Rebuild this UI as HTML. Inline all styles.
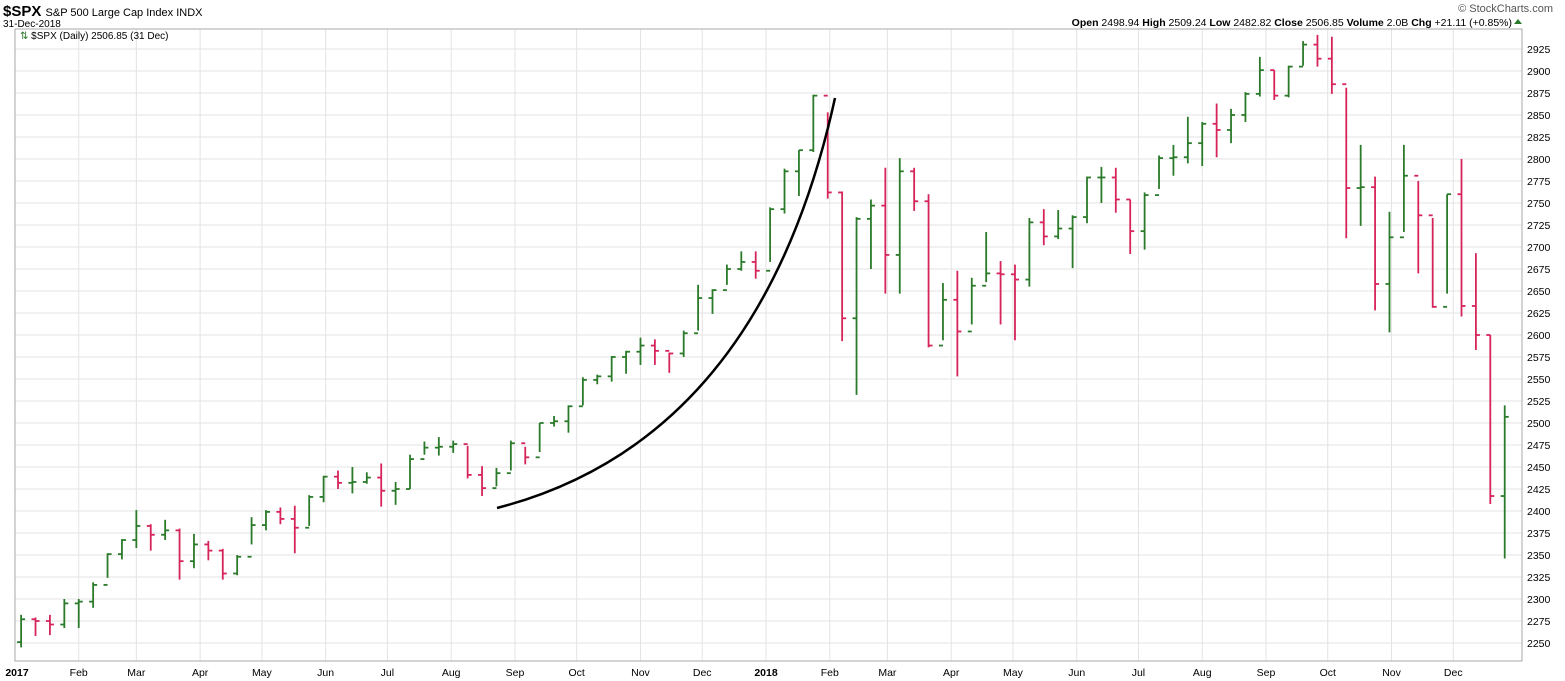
<!DOCTYPE html>
<html><head><meta charset="utf-8"><style>
body{margin:0;background:#fff;font-family:"Liberation Sans",sans-serif;}
#wrap{position:relative;width:1565px;height:681px;overflow:hidden;}
</style></head><body>
<div id="wrap">
<svg id="chart" width="1565" height="681" font-family="Liberation Sans, sans-serif">
<text x="3" y="16" font-size="15" font-weight="bold" fill="#000">$SPX <tspan font-size="11" font-weight="normal">S&amp;P 500 Large Cap Index  INDX</tspan></text>
<text x="3" y="27" font-size="10" fill="#000">31-Dec-2018</text>
<text x="1553" y="12" font-size="11" fill="#555" text-anchor="end">© StockCharts.com</text>
<text x="1512" y="26" font-size="10.5" fill="#000" text-anchor="end"><tspan font-weight="bold">Open</tspan> 2498.94 <tspan font-weight="bold">High</tspan> 2509.24 <tspan font-weight="bold">Low</tspan> 2482.82 <tspan font-weight="bold">Close</tspan> 2506.85 <tspan font-weight="bold">Volume</tspan> 2.0B <tspan font-weight="bold">Chg</tspan> +21.11 (+0.85%)</text>
<polygon points="1514,24 1522,24 1518,19" fill="#2a7a2a"/>
<g id="grid"></g>
<rect x="15" y="29" width="1507" height="632" fill="none" stroke="#aaa"/>
<text x="20" y="39" font-size="10" fill="#000"><tspan fill="#2a7a2a">⇅</tspan> $SPX (Daily) 2506.85 (31 Dec)</text>
<g id="bars"></g>
<path d="M497,508 Q760,440 835,98" fill="none" stroke="#000" stroke-width="2.5"/>
<g id="axes"></g>
</svg>
</div>
<script>
const closes=[2277,2275,2271,2295,2297,2316,2351,2367,2383,2373,2378,2343,2362,2355,2329,2348,2384,2399,2391,2381,2416,2439,2432,2433,2438,2423,2425,2459,2472,2473,2476,2441,2426,2443,2477,2461,2500,2502,2519,2549,2553,2575,2581,2588,2582,2579,2602,2642,2651,2675,2683,2673,2743,2786,2810,2872,2762,2619,2732,2747,2691,2786,2752,2588,2640,2604,2656,2670,2669,2663,2728,2712,2721,2734,2779,2779,2754,2718,2759,2801,2802,2818,2840,2833,2850,2874,2901,2872,2905,2930,2914,2885,2767,2768,2658,2711,2781,2736,2632,2760,2633,2600,2417,2507];
const highs=[2282,2279,2282,2300,2300,2319,2352,2368,2401,2385,2390,2380,2374,2366,2357,2350,2393,2401,2404,2406,2418,2440,2446,2450,2444,2454,2433,2464,2479,2484,2480,2474,2451,2449,2480,2473,2500,2508,2520,2552,2555,2576,2582,2597,2595,2580,2605,2657,2652,2680,2695,2695,2745,2789,2810,2873,2853,2763,2734,2754,2790,2801,2790,2760,2659,2673,2665,2717,2684,2680,2733,2743,2742,2736,2780,2791,2790,2754,2762,2804,2816,2848,2842,2863,2857,2876,2916,2901,2906,2934,2941,2939,2881,2816,2780,2740,2816,2775,2733,2760,2800,2693,2600,2520];
const lows=[2245,2258,2259,2267,2267,2290,2324,2345,2358,2355,2367,2322,2335,2344,2322,2327,2362,2378,2385,2352,2383,2410,2425,2420,2431,2405,2407,2425,2464,2463,2466,2437,2417,2428,2446,2453,2467,2496,2489,2520,2544,2547,2556,2566,2566,2557,2575,2605,2624,2657,2673,2664,2683,2738,2758,2808,2755,2593,2532,2675,2647,2647,2741,2586,2594,2553,2612,2660,2612,2594,2655,2702,2709,2676,2727,2750,2739,2692,2697,2766,2781,2795,2792,2802,2818,2842,2871,2867,2870,2906,2905,2874,2710,2724,2628,2603,2717,2670,2631,2647,2621,2583,2408,2346];
const firstOpen=2251;
const firstWeekEnding="2017-01-06";
const yTicks=[2250,2275,2300,2325,2350,2375,2400,2425,2450,2475,2500,2525,2550,2575,2600,2625,2650,2675,2700,2725,2750,2775,2800,2825,2850,2875,2900,2925];
const monthLabels=["2017","Feb","Mar","Apr","May","Jun","Jul","Aug","Sep","Oct","Nov","Dec","2018","Feb","Mar","Apr","May","Jun","Jul","Aug","Sep","Oct","Nov","Dec"];

const NS="http://www.w3.org/2000/svg";
const DAY=86400000;
const t0=Date.UTC(2017,0,2), t1=Date.UTC(2018,11,31);
const xd=t=>17+(t-t0)/(t1-t0)*(1515-17);
const y=v=>643-(v-2250)*0.88;
const wk0=Date.parse(firstWeekEnding+"T00:00:00Z");
const x=i=>xd(wk0+(7*i-2)*DAY);
function mk(tag,attrs,parent){const e=document.createElementNS(NS,tag);for(const k in attrs)e.setAttribute(k,attrs[k]);parent.appendChild(e);return e;}
const grid=document.getElementById('grid'),bars=document.getElementById('bars'),axes=document.getElementById('axes');
yTicks.forEach(v=>{
  const l=mk('line',{x1:15,x2:1522,y1:y(v),y2:y(v),stroke:'#e3e3e3'},grid);
  
  
  const t=mk('text',{x:1527,y:y(v)+4,'font-size':10.5,fill:'#000'},axes);
  t.textContent=v;
  
  
});
monthLabels.forEach((m,k)=>{
  const xi=xd(Date.UTC(2017+Math.floor(k/12),k%12,1));
  const l=mk('line',{x1:xi,x2:xi,y1:29,y2:661,stroke:'#e3e3e3'},grid);
  
  
  const t=mk('text',{x:Math.max(xi,17),y:676,'font-size':10.5,fill:'#000','font-weight':m.length===4?'bold':'normal','text-anchor':'middle'},axes);
  t.textContent=m;
  
  
});
closes.forEach((c,i)=>{
  const o=i===0?firstOpen:closes[i-1];
  const col=c>=o?'#2a7a2a':'#d6245a';
  const g=mk('g',{stroke:col,'stroke-width':1.8},bars);
  
  
  const xi=x(i);
  mk('line',{x1:xi,x2:xi,y1:y(highs[i]),y2:y(lows[i])},g);
  mk('line',{x1:xi-4,x2:xi,y1:y(o),y2:y(o)},g);
  mk('line',{x1:xi,x2:xi+4,y1:y(c),y2:y(c)},g);
});
</script>
</body></html>
